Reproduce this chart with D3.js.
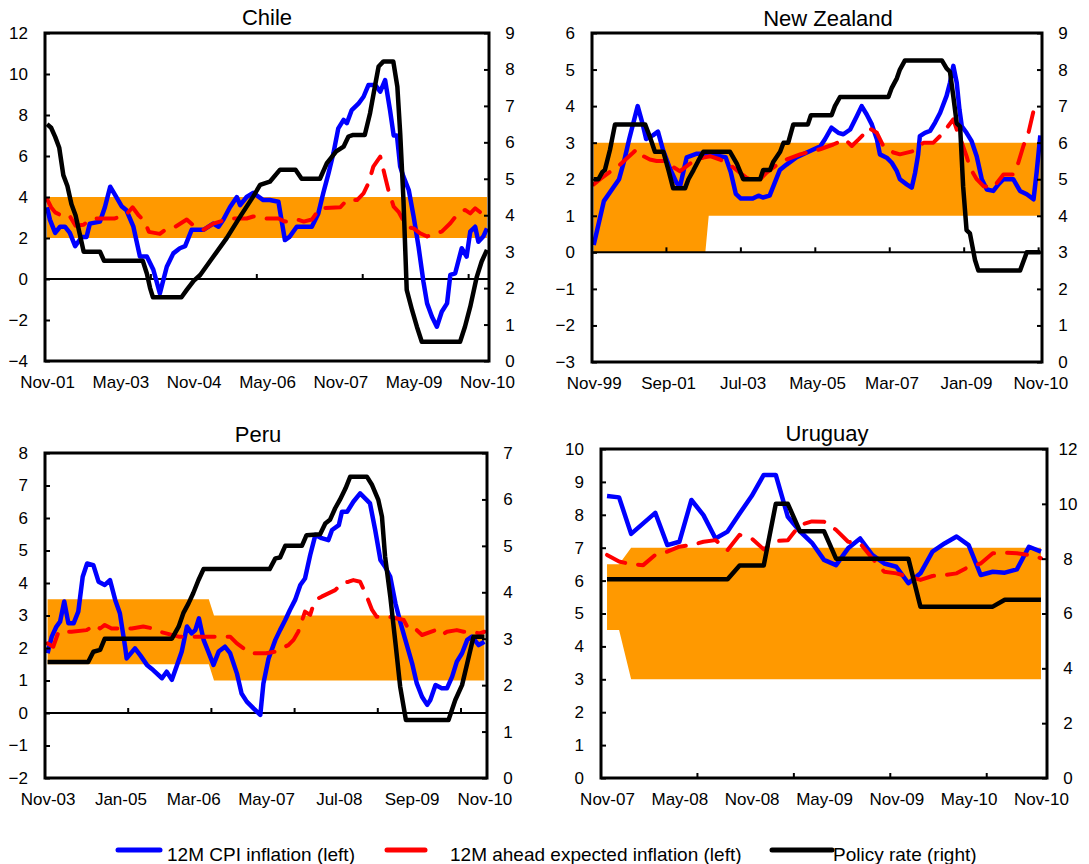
<!DOCTYPE html>
<html>
<head>
<meta charset="utf-8">
<script src="https://cdn.jsdelivr.net/npm/d3@7"></script>
<style>
  body { margin: 0; background: #fff; }
  svg text { font-family: Arial, "Liberation Sans", sans-serif; fill: #000; }
</style>
</head>
<body>
<svg id="chart" width="1089" height="864"></svg>
<script>
// ---------------- Data ----------------
// Series points are [month index from the first month shown, value].
// CPI and expectations use the left axis, the policy rate the right axis.
// Target bands are [month index, lower bound, upper bound].

// Chile: Nov-01 .. Nov-10 (109 months)
const chileLabels = ["Nov-01", "May-03", "Nov-04", "May-06", "Nov-07", "May-09", "Nov-10"];
const chileLeftTicks = [-4, -2, 0, 2, 4, 6, 8, 10, 12];
const chileRightTicks = [0, 1, 2, 3, 4, 5, 6, 7, 8, 9];
const chileBand = [[0, 2, 4], [108, 2, 4]];
const chileCpi = [[0,3.5],[0.7,2.9],[2,2.25],[3.2,2.55],[4.4,2.55],[5.6,2.25],[6.9,1.6],[8.5,2.05],[9.7,2.05],[10.5,2.7],[13,2.8],[14.2,3.5],[15.5,4.5],[16.7,4.1],[18.3,3.55],[19.5,3.35],[21.2,2.55],[22.8,1.1],[24.5,1.1],[26.1,0.45],[27.7,-0.7],[29.4,0.6],[31,1.25],[32.6,1.5],[33.9,1.6],[35.5,2.4],[38.4,2.4],[40.8,2.7],[42.1,2.55],[43.3,2.9],[44.9,3.5],[46.6,4.0],[47.4,3.6],[49,4.0],[50.6,4.2],[53.1,3.85],[54.7,3.85],[56.8,3.77],[58.4,1.9],[59.6,2.07],[61.3,2.55],[65,2.55],[66.6,3.2],[67.8,4.18],[69.1,5.15],[70.3,6.13],[71.5,7.35],[72.8,7.76],[73.6,7.6],[74.8,8.24],[76.5,8.57],[77.7,8.89],[78.9,9.46],[80.6,9.46],[81.8,9.14],[83,9.7],[84.2,8.24],[85.1,7.0],[85.9,7.0],[86.7,5.48],[87.5,4.99],[88.8,4.34],[90,3.04],[91.2,1.58],[92.4,-0.13],[93.3,-1.19],[94.5,-1.84],[95.7,-2.33],[96.9,-1.6],[98.2,-1.19],[99,0.2],[100.2,0.28],[101.8,1.5],[103,1.09],[103.9,2.31],[105.1,2.55],[105.9,1.82],[107.1,2.07],[108,2.47]];
const chileExpected = [[0,3.9],[1,3.5],[2,3.25],[4,3.05],[5.5,3.1],[7,2.6],[9,2.65],[10.5,2.9],[12,2.95],[16.5,2.95],[19.5,3.15],[21,3.5],[22.5,3.1],[24,2.8],[25,2.3],[27.7,2.2],[29.4,2.45],[31.5,2.55],[34.3,2.9],[36,2.6],[38.4,2.4],[40.8,2.7],[44.9,2.95],[49,2.95],[50.6,3.05],[54,2.95],[56.8,2.95],[58.4,2.8],[61.5,2.9],[63,2.8],[65,2.9],[67,3.45],[72,3.5],[73.6,3.85],[76.1,3.85],[77.7,4.18],[78.9,4.67],[80.1,5.48],[81.8,5.97],[83,4.99],[83.8,4.34],[85.1,3.53],[86.3,3.28],[88.3,2.55],[90,2.47],[91.6,2.23],[93.3,2.07],[94.9,2.23],[96.9,2.31],[99,2.72],[100.6,3.12],[102.6,3.37],[103.9,3.2],[105.1,3.45],[106.7,3.2],[108,3.12]];
const chileRate = [[0,6.5],[1,6.4],[2,6.15],[3,5.85],[4,5.1],[5,4.8],[6,4.3],[7,4.0],[8,3.5],[9,3.0],[13,3.0],[14,2.75],[23.5,2.75],[24.5,2.4],[25.3,2.0],[26,1.75],[33,1.75],[34.3,1.95],[36,2.2],[37.6,2.36],[40.8,2.86],[44.1,3.37],[47.4,3.96],[50.6,4.51],[52.3,4.83],[54.7,4.92],[57.2,5.25],[61,5.25],[62.5,5.0],[67,5.0],[68.7,5.43],[71,5.75],[72.8,5.88],[74,6.16],[75,6.2],[78,6.2],[79.3,6.8],[80.6,7.6],[81.4,8.08],[82.6,8.22],[85,8.22],[86,7.53],[86.7,6.25],[87.5,4.42],[88.3,1.95],[89.6,1.4],[90.8,0.94],[92,0.53],[101.4,0.53],[102.6,0.94],[103.9,1.49],[105.5,2.31],[106.7,2.73],[108,3.05]];

// New Zealand: Nov-99 .. Nov-10 (133 months)
const nzLabels = ["Nov-99", "Sep-01", "Jul-03", "May-05", "Mar-07", "Jan-09", "Nov-10"];
const nzLeftTicks = [-3, -2, -1, 0, 1, 2, 3, 4, 5, 6];
const nzRightTicks = [0, 1, 2, 3, 4, 5, 6, 7, 8, 9];
const nzBand = [[0, 0, 3], [33, 0, 3], [34, 1, 3], [132, 1, 3]];
const nzCpi = [[0,0.2],[3,1.4],[6,1.8],[7.5,2.0],[9,2.5],[10.5,3.1],[13,4.0],[14.5,3.5],[15.5,3.1],[17.5,3.2],[19,3.3],[20.5,2.8],[22.5,2.3],[24.5,1.9],[25.5,1.8],[27.5,2.6],[30.5,2.7],[33,2.7],[36,2.65],[39,2.6],[40.5,2.2],[42,1.6],[43.5,1.47],[47,1.47],[48.7,1.55],[50,1.5],[52,1.55],[53.5,1.9],[55,2.25],[57,2.4],[60,2.6],[63,2.73],[67,2.9],[68.4,3.1],[70.3,3.41],[72.3,3.27],[73.8,3.23],[75.8,3.36],[77.8,3.73],[79.2,4.0],[80.7,3.77],[82.2,3.5],[83.7,3.09],[84.6,2.68],[86.6,2.59],[88.1,2.45],[89.6,2.22],[90.5,2.0],[92.5,1.86],[94,1.77],[95,2.18],[95.9,2.68],[96.4,3.18],[97.9,3.27],[99.4,3.32],[100.9,3.55],[102.4,3.82],[104.3,4.28],[105.3,4.64],[106.3,5.1],[107.3,4.64],[108.1,3.91],[108.8,3.45],[110.2,3.27],[111.7,3.04],[113.2,2.63],[114.7,2.0],[116.2,1.72],[118.1,1.68],[119.6,1.86],[121.1,2.0],[124,2.0],[126,1.68],[128,1.59],[130,1.45],[130.9,2.18],[132,3.2]];
const nzExpected = [[0,1.86],[1.9,2.0],[3.8,2.13],[5.8,2.27],[7.8,2.4],[11.7,2.73],[12.7,2.82],[14.7,2.63],[16.6,2.54],[18.6,2.5],[21.1,2.5],[23,2.36],[25.5,2.22],[27.5,2.36],[29.5,2.5],[32.4,2.59],[34.4,2.63],[37.3,2.54],[39.3,2.45],[41.3,2.32],[43.2,2.18],[45.2,2.04],[47.2,1.95],[49.2,2.0],[51.1,2.18],[53.1,2.32],[55.1,2.45],[57,2.54],[61,2.68],[63,2.73],[66.9,2.82],[70.8,2.95],[74.3,3.09],[76.3,2.91],[78.3,3.09],[80.2,3.27],[81.2,3.41],[83.7,3.27],[85.6,2.91],[88.6,2.73],[90.5,2.68],[94.5,2.77],[97.5,3.0],[100.4,3.0],[102.9,3.23],[106.3,3.64],[107.3,3.36],[108.8,3.0],[110.2,2.63],[111.2,2.32],[113.2,2.0],[115.2,1.81],[118.1,1.77],[121.1,2.13],[124,2.13],[125.5,2.45],[127,2.91],[128.5,3.27],[130,3.87],[131.5,3.77]];
const nzRate = [[0,5.0],[1.4,5.0],[2.6,5.2],[3.3,5.25],[4.8,5.8],[6.3,6.5],[15.2,6.5],[16.6,6.16],[18.1,5.75],[20.6,5.75],[22.1,5.25],[23.5,4.75],[27,4.75],[28,5.0],[29.5,5.25],[30.9,5.5],[32.4,5.75],[40.3,5.75],[42.3,5.43],[44.2,5.0],[49.2,5.0],[50.1,5.25],[52.1,5.25],[53.1,5.48],[55.1,5.75],[56.1,6.0],[57.5,6.0],[59,6.5],[63.3,6.5],[64.2,6.75],[70.3,6.75],[71.3,7.0],[72.8,7.25],[87.1,7.25],[88.1,7.5],[89.6,7.76],[90.5,8.0],[92,8.25],[102.9,8.25],[104.3,8.03],[105.3,7.94],[106.3,7.26],[107.3,6.53],[108.3,6.44],[109.2,4.79],[110.2,3.61],[111.2,3.52],[112.7,2.79],[113.7,2.5],[126,2.5],[128,3.0],[132,3.0]];

// Peru: Nov-03 .. Nov-10 (85 months)
const peruLabels = ["Nov-03", "Jan-05", "Mar-06", "May-07", "Jul-08", "Sep-09", "Nov-10"];
const peruLeftTicks = [-2, -1, 0, 1, 2, 3, 4, 5, 6, 7, 8];
const peruRightTicks = [0, 1, 2, 3, 4, 5, 6, 7];
const peruBand = [[0, 1.5, 3.5], [31, 1.5, 3.5], [32, 1, 3], [84, 1, 3]];
const peruCpi = [[0,1.84],[0.8,2.35],[1.7,2.66],[2.4,2.81],[3.2,3.43],[4,2.76],[5,2.76],[5.9,3.12],[6.75,4.19],[7.6,4.6],[8.8,4.55],[9.8,4.04],[11,3.94],[12,4.09],[13,3.48],[13.9,3.07],[14.9,2.04],[15.2,1.68],[16.8,1.99],[17.8,1.78],[19.1,1.48],[20.3,1.32],[22,1.07],[22.9,1.27],[23.9,1.02],[24.8,1.43],[25.8,1.89],[26.8,2.66],[27.7,2.45],[28.4,2.55],[29.1,2.91],[30,2.25],[30.9,1.89],[31.9,1.48],[32.9,1.89],[34.1,2.04],[35.1,1.84],[36.4,1.22],[37.3,0.6],[38.3,0.35],[39.6,0.14],[40.9,-0.06],[41.5,0.91],[42.5,1.68],[43.8,2.25],[44.7,2.55],[45.7,2.86],[46.6,3.17],[47.6,3.48],[48.6,3.94],[49.5,4.14],[50.5,4.86],[51.5,5.48],[52.7,5.38],[54,5.32],[54.7,5.63],[56,5.78],[56.6,6.19],[57.6,6.19],[58.8,6.5],[60.1,6.76],[61.4,6.55],[62,6.45],[63,5.63],[64,4.71],[64.9,4.5],[65.9,4.19],[66.9,3.37],[67.8,2.81],[68.8,2.25],[70.1,1.53],[71,0.91],[72,0.5],[73,0.25],[73.6,0.4],[74.6,0.86],[75.8,0.76],[76.8,0.76],[77.8,1.12],[78.7,1.58],[79.7,1.84],[80.7,2.25],[81.6,2.35],[82.9,2.09],[84,2.19]];
const peruExpected = [[0,2.14],[1.1,2.04],[2.1,2.5],[4.6,2.5],[7.5,2.55],[9.1,2.71],[10.1,2.6],[11,2.71],[12.3,2.6],[14.6,2.6],[16.2,2.6],[18.4,2.66],[20.3,2.6],[21.6,2.5],[25.2,2.35],[35.1,2.35],[36.4,2.14],[37.7,1.99],[39,1.84],[42,1.84],[43.8,1.89],[45,1.99],[46.3,2.09],[47.3,2.25],[48.2,2.5],[49.5,3.12],[50.5,3.02],[51.1,3.32],[52.1,3.53],[52.7,3.58],[55.3,3.78],[56.6,3.99],[57.9,4.04],[58.8,4.09],[60.1,4.04],[61.4,3.58],[62.4,3.17],[63.3,2.96],[65.6,2.96],[67.2,2.91],[68.5,2.86],[69.5,2.55],[71,2.55],[72,2.4],[74.6,2.55],[75.8,2.4],[76.8,2.5],[78.7,2.55],[80,2.5],[81.5,2.5],[83.1,2.45],[84,2.5]];
const peruRate = [[0,2.5],[7.8,2.5],[8.8,2.72],[10.1,2.76],[11,3.0],[23.9,3.0],[25.2,3.26],[26.1,3.55],[27.1,3.76],[28,3.98],[29,4.26],[30,4.5],[42.7,4.5],[43.8,4.73],[44.7,4.75],[45.7,5.0],[48.9,5.0],[49.8,5.23],[52.4,5.25],[53.4,5.48],[54.3,5.56],[55.3,5.81],[56.2,5.99],[57.3,6.24],[58.2,6.49],[61.4,6.49],[62.4,6.31],[63.6,5.99],[64.3,5.63],[64.9,4.77],[65.9,3.91],[66.9,2.9],[67.8,1.97],[68.9,1.25],[77.1,1.25],[78.4,1.68],[79.7,2.0],[80.7,2.47],[81.9,3.04],[84,3.04]];

// Uruguay: Nov-07 .. Nov-10, one value per month (37 months)
const uruguayLabels = ["Nov-07", "May-08", "Nov-08", "May-09", "Nov-09", "May-10", "Nov-10"];
const uruguayLeftTicks = [0, 1, 2, 3, 4, 5, 6, 7, 8, 9, 10];
const uruguayRightTicks = [0, 2, 4, 6, 8, 10, 12];
const uruguayBand = [[0, 4.5, 6.5], [1, 4.5, 6.5], [2, 3, 7], [36, 3, 7]];
const uruguayCpiMonthly = [8.57, 8.53, 7.42, 7.74, 8.06, 7.08, 7.18, 8.45, 7.99, 7.28, 7.49, 8.04, 8.57, 9.21, 9.21, 7.94, 7.5, 7.15, 6.63, 6.47, 6.98, 7.28, 6.78, 6.52, 6.42, 5.92, 6.22, 6.88, 7.13, 7.34, 7.08, 6.17, 6.27, 6.24, 6.34, 7.03, 6.88];
const uruguayExpectedMonthly = [6.78, 6.58, 6.5, 6.47, 6.78, 6.88, 7.03, 7.08, 7.18, 7.23, 6.93, 7.39, 7.28, 6.95, 7.2, 7.23, 7.69, 7.8, 7.79, 7.54, 7.18, 7.13, 6.68, 6.27, 6.22, 6.12, 6.02, 6.14, 6.17, 6.22, 6.42, 6.52, 6.83, 6.85, 6.83, 6.78, 6.68];
const uruguayRateMonthly = [7.25, 7.25, 7.25, 7.25, 7.25, 7.25, 7.25, 7.25, 7.25, 7.25, 7.25, 7.75, 7.75, 7.75, 10, 10, 9, 9, 9, 8, 8, 8, 8, 8, 8, 8, 6.25, 6.25, 6.25, 6.25, 6.25, 6.25, 6.25, 6.5, 6.5, 6.5, 6.5];

const legendItems = ["12M CPI inflation (left)", "12M ahead expected inflation (left)", "Policy rate (right)"];

// ---------------- Styles and layout ----------------
const COLORS = { cpi: "#0000FF", expected: "#FF0000", rate: "#000000", band: "#FF9900" };
const indexed = arr => arr.map((v, i) => [i, v]);

const panels = [
  { title: "Chile", titleX: 267, titleY: 25, left: 45, right: 489, top: 33, bottom: 361,
    months: 109, labelStep: 18, tickStep: 26, labels: chileLabels,
    leftDomain: [-4, 12], leftTicks: chileLeftTicks, rightDomain: [0, 9], rightTicks: chileRightTicks,
    band: chileBand, cpi: chileCpi, expected: chileExpected, rate: chileRate },
  { title: "New Zealand", titleX: 828, titleY: 26, left: 592, right: 1042, top: 33, bottom: 362,
    months: 133, labelStep: 22, tickStep: 22, labels: nzLabels,
    leftDomain: [-3, 6], leftTicks: nzLeftTicks, rightDomain: [0, 9], rightTicks: nzRightTicks,
    band: nzBand, cpi: nzCpi, expected: nzExpected, rate: nzRate },
  { title: "Peru", titleX: 258, titleY: 442, left: 45, right: 487, top: 453, bottom: 778,
    months: 85, labelStep: 14, tickStep: 16, labels: peruLabels,
    leftDomain: [-2, 8], leftTicks: peruLeftTicks, rightDomain: [0, 7], rightTicks: peruRightTicks,
    band: peruBand, cpi: peruCpi, expected: peruExpected, rate: peruRate },
  { title: "Uruguay", titleX: 827, titleY: 441, left: 601, right: 1047, top: 449, bottom: 778,
    months: 37, labelStep: 6, tickStep: 8, labels: uruguayLabels,
    leftDomain: [0, 10], leftTicks: uruguayLeftTicks, rightDomain: [0, 12], rightTicks: uruguayRightTicks,
    band: uruguayBand, cpi: indexed(uruguayCpiMonthly), expected: indexed(uruguayExpectedMonthly),
    rate: indexed(uruguayRateMonthly) }
];

const svg = d3.select("#chart");

function drawPanel(p) {
  const g = svg.append("g");
  const x = d3.scaleLinear().domain([-0.5, p.months - 0.5]).range([p.left, p.right]);
  const yL = d3.scaleLinear().domain(p.leftDomain).range([p.bottom, p.top]);
  const yR = d3.scaleLinear().domain(p.rightDomain).range([p.bottom, p.top]);

  // inflation target band
  g.append("path")
    .datum(p.band)
    .attr("fill", COLORS.band)
    .attr("d", d3.area().x(d => x(d[0])).y0(d => yL(d[1])).y1(d => yL(d[2])));

  // horizontal axis line at zero with tick marks between categories
  const y0 = yL(0);
  g.append("line")
    .attr("x1", p.left).attr("x2", p.right).attr("y1", y0).attr("y2", y0)
    .attr("stroke", "#000").attr("stroke-width", 2);
  const tickPos = d3.range(p.tickStep, p.months, p.tickStep).map(i => i - 0.5);
  g.selectAll(".xtick").data(tickPos).join("line")
    .attr("x1", d => x(d)).attr("x2", d => x(d))
    .attr("y1", y0).attr("y2", y0 - 5)
    .attr("stroke", "#000").attr("stroke-width", 2);

  // series
  const lineL = d3.line().x(d => x(d[0])).y(d => yL(d[1]));
  const lineR = d3.line().x(d => x(d[0])).y(d => yR(d[1]));
  g.append("path").datum(p.cpi)
    .attr("fill", "none").attr("stroke", COLORS.cpi).attr("stroke-width", 4.5)
    .attr("stroke-linejoin", "round").attr("d", lineL);
  g.append("path").datum(p.expected)
    .attr("fill", "none").attr("stroke", COLORS.expected).attr("stroke-width", 4)
    .attr("stroke-linejoin", "round").attr("stroke-linecap", "round")
    .attr("stroke-dasharray", "20,13").attr("d", lineL);
  g.append("path").datum(p.rate)
    .attr("fill", "none").attr("stroke", COLORS.rate).attr("stroke-width", 4.5)
    .attr("stroke-linejoin", "round").attr("d", lineR);

  // left axis
  const axL = g.append("g").attr("transform", `translate(${p.left},0)`)
    .call(d3.axisLeft(yL).tickValues(p.leftTicks).tickSize(-5).tickPadding(17).tickFormat(d3.format("d")));
  // right axis
  const axR = g.append("g").attr("transform", `translate(${p.right},0)`)
    .call(d3.axisRight(yR).tickValues(p.rightTicks).tickSize(-5).tickPadding(21).tickFormat(d3.format("d")));
  axR.selectAll("text").attr("text-anchor", "middle");
  // category labels
  const labelIdx = d3.range(0, p.months, p.labelStep);
  const axB = g.append("g").attr("transform", `translate(0,${p.bottom})`)
    .call(d3.axisBottom(x).tickValues(labelIdx).tickSize(0).tickPadding(15)
      .tickFormat(i => p.labels[Math.round(i / p.labelStep)]));
  [axL, axR, axB].forEach(ax => {
    ax.select(".domain").remove();
    ax.selectAll("line").attr("stroke", "#000").attr("stroke-width", 2);
    ax.selectAll("text").attr("font-size", 17).attr("fill", "#000")
      .style("font-family", "Arial, 'Liberation Sans', sans-serif");
  });

  // plot frame
  g.append("rect")
    .attr("x", p.left).attr("y", p.top)
    .attr("width", p.right - p.left).attr("height", p.bottom - p.top)
    .attr("fill", "none").attr("stroke", "#000").attr("stroke-width", 3);

  // title
  g.append("text")
    .attr("x", p.titleX).attr("y", p.titleY)
    .attr("text-anchor", "middle").attr("font-size", 22)
    .text(p.title);
}

panels.forEach(drawPanel);

// ---------------- Legend ----------------
const legend = svg.append("g");
const legendRows = [
  { x1: 118, x2: 160, tx: 167, color: COLORS.cpi, dash: null, label: legendItems[0] },
  { x1: 387, x2: 425, tx: 450, color: COLORS.expected, dash: null, label: legendItems[1] },
  { x1: 772, x2: 832, tx: 833, color: COLORS.rate, dash: null, label: legendItems[2] }
];
legendRows.forEach(r => {
  legend.append("line")
    .attr("x1", r.x1).attr("x2", r.x2).attr("y1", 850).attr("y2", 850)
    .attr("stroke", r.color).attr("stroke-width", 5).attr("stroke-linecap", "round");
  legend.append("text")
    .attr("x", r.tx).attr("y", 861).attr("font-size", 19)
    .text(r.label);
});
</script>
</body>
</html>
